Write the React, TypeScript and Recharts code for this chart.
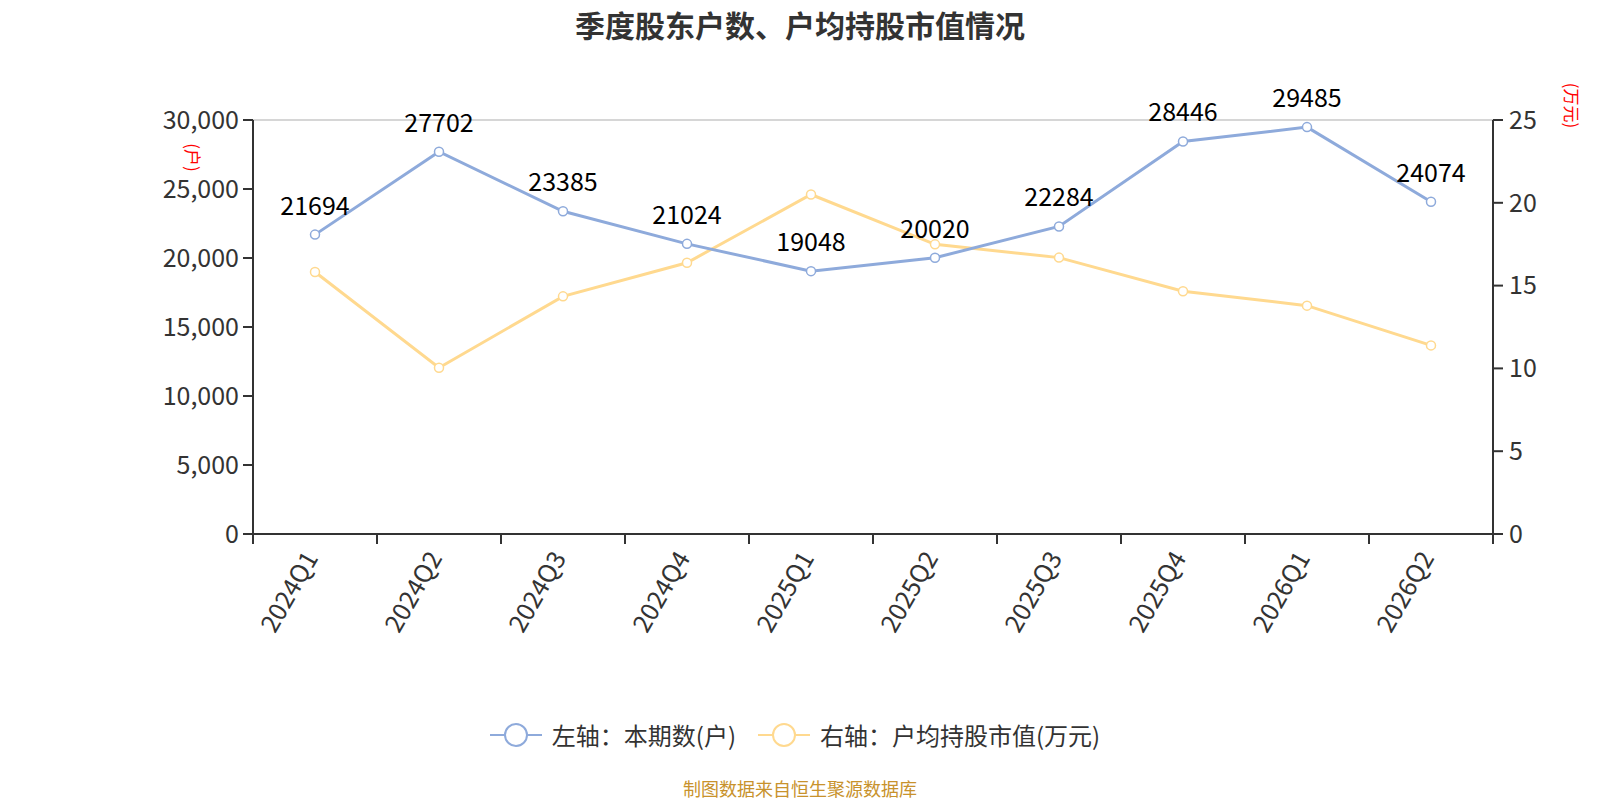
import React from 'react';
import { LineChart, Line, XAxis, YAxis, CartesianGrid } from 'recharts';

const quarters = ['2024Q1', '2024Q2', '2024Q3', '2024Q4', '2025Q1', '2025Q2', '2025Q3', '2025Q4', '2026Q1', '2026Q2'];
const holders = [21694, 27702, 23385, 21024, 19048, 20020, 22284, 28446, 29485, 24074];
const avgValue = [15.82, 10.04, 14.35, 16.38, 20.5, 17.49, 16.69, 14.66, 13.79, 11.39];
const leftTicks = [0, 5000, 10000, 15000, 20000, 25000, 30000];
const rightTicks = [0, 5, 10, 15, 20, 25];

const BLUE = '#8eaadb';
const YELLOW = '#ffd98f';
const FONT = '"Noto Sans CJK SC", "Noto Sans", sans-serif';

const PLOT_LEFT = 253;
const PLOT_RIGHT = 1493;
const PLOT_TOP = 120;
const PLOT_BOTTOM = 534;
const BAND = (PLOT_RIGHT - PLOT_LEFT) / quarters.length;

const data = quarters.map((q, i) => ({ q, holders: holders[i], avg: avgValue[i] }));

function QuarterTick(props: any) {
  const { x, payload, index } = props;
  const last = index === quarters.length - 1;
  const tx = x + 4;
  const ty = PLOT_BOTTOM + 24;
  return (
    <g>
      <line x1={x - BAND / 2} y1={PLOT_BOTTOM} x2={x - BAND / 2} y2={PLOT_BOTTOM + 10} stroke="#333" strokeWidth={2} />
      {last && (
        <line x1={x + BAND / 2} y1={PLOT_BOTTOM} x2={x + BAND / 2} y2={PLOT_BOTTOM + 10} stroke="#333" strokeWidth={2} />
      )}
      <text x={tx} y={ty} transform={`rotate(-60, ${tx}, ${ty})`} textAnchor="end" fontSize={25} fill="#333" fontFamily={FONT}>
        {payload.value}
      </text>
    </g>
  );
}

function LegendIcon({ color }: { color: string }) {
  return (
    <svg width={52} height={28} style={{ marginRight: 10 }}>
      <line x1={0} y1={14} x2={52} y2={14} stroke={color} strokeWidth={2} />
      <circle cx={26} cy={14} r={11} fill="#fff" stroke={color} strokeWidth={2} />
    </svg>
  );
}

export default function App() {
  return (
    <div style={{ position: 'absolute', left: 0, top: 0, width: 1600, height: 800, background: '#fff', fontFamily: FONT, overflow: 'hidden' }}>
      <div style={{ position: 'absolute', top: 2, left: 0, width: 1600, textAlign: 'center', fontSize: 30, fontWeight: 'bold', color: '#333' }}>
        季度股东户数、户均持股市值情况
      </div>

      <LineChart
        width={1600}
        height={800}
        data={data}
        margin={{ top: PLOT_TOP, left: PLOT_LEFT - 80, right: 1600 - PLOT_RIGHT - 60, bottom: 800 - PLOT_BOTTOM - 100 }}
      >
        <CartesianGrid vertical={false} stroke="#c8c8c8" strokeWidth={1.5} />
        <XAxis
          dataKey="q"
          height={100}
          padding={{ left: BAND / 2, right: BAND / 2 }}
          tick={<QuarterTick />}
          tickLine={false}
          interval={0}
          axisLine={{ stroke: '#333', strokeWidth: 2 }}
        />
        <YAxis
          yAxisId="left"
          width={80}
          domain={[0, 30000]}
          ticks={leftTicks}
          tickFormatter={(v: number) => v.toLocaleString('en-US')}
          tick={{ fontSize: 25, fill: '#333', fontFamily: FONT }}
          tickSize={10}
          tickMargin={4}
          tickLine={{ stroke: '#333', strokeWidth: 2 }}
          axisLine={{ stroke: '#333', strokeWidth: 2 }}
        />
        <YAxis
          yAxisId="right"
          orientation="right"
          width={60}
          domain={[0, 25]}
          ticks={rightTicks}
          tick={{ fontSize: 25, fill: '#333', fontFamily: FONT }}
          tickSize={10}
          tickMargin={6}
          tickLine={{ stroke: '#333', strokeWidth: 2 }}
          axisLine={{ stroke: '#333', strokeWidth: 2 }}
        />
        <Line
          yAxisId="right"
          dataKey="avg"
          stroke={YELLOW}
          strokeWidth={3}
          dot={{ r: 4.5, fill: '#fff', stroke: YELLOW, strokeWidth: 1.5 }}
          isAnimationActive={false}
        />
        <Line
          yAxisId="left"
          dataKey="holders"
          stroke={BLUE}
          strokeWidth={3}
          dot={{ r: 4.5, fill: '#fff', stroke: BLUE, strokeWidth: 1.5 }}
          label={{ position: 'top', offset: 20, fill: '#000', fontSize: 25, fontFamily: FONT }}
          isAnimationActive={false}
        />
      </LineChart>

      <div style={{ position: 'absolute', left: 179, top: 145, color: 'red', fontSize: 17, transform: 'rotate(90deg)', transformOrigin: 'center' }}>
        (户)
      </div>
      <div style={{ position: 'absolute', left: 1550, top: 93, color: 'red', fontSize: 17, transform: 'rotate(90deg)', transformOrigin: 'center' }}>
        (万元)
      </div>

      <div style={{ position: 'absolute', top: 717, left: 0, width: 1590, display: 'flex', justifyContent: 'center', alignItems: 'center', fontSize: 24, color: '#333' }}>
        <LegendIcon color={BLUE} />
        <span style={{ marginRight: 22 }}>左轴：本期数(户)</span>
        <LegendIcon color={YELLOW} />
        <span>右轴：户均持股市值(万元)</span>
      </div>

      <div style={{ position: 'absolute', top: 775, left: 0, width: 1600, textAlign: 'center', fontSize: 18, color: '#c8922c' }}>
        制图数据来自恒生聚源数据库
      </div>
    </div>
  );
}
